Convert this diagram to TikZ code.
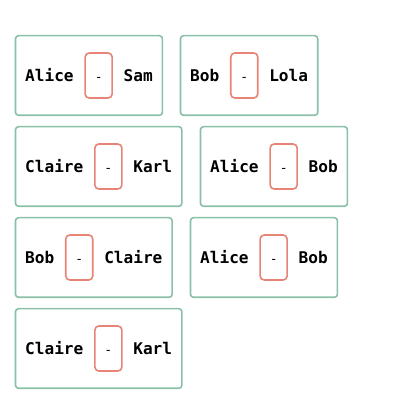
\documentclass[tikz,border=0pt]{standalone}
\usepackage{fontspec}
\setmonofont{DejaVu Sans Mono}
\usepackage{xcolor}
\usepackage{tikz}
\usetikzlibrary{positioning, fit}
\definecolor{pairgreen}{RGB}{138,192,168}
\definecolor{dashred}{RGB}{232,132,118}

\begin{document}
\begin{tikzpicture}[
    x=1pt, y=1pt,
    node distance=10.5pt,
    person/.style={inner sep=0pt, text height=11.8pt, text depth=0pt, font=\fontsize{16.1}{19}\selectfont\ttfamily\bfseries},
    sepbox/.style={rectangle, draw=dashred, line width=1.6pt, rounded corners=4pt, minimum width=27pt, minimum height=45pt, inner sep=0pt, text height=11.8pt, text depth=0pt, font=\fontsize{13}{15}\selectfont\ttfamily},
    pair/.style={rectangle, draw=pairgreen, line width=1.6pt, rounded corners=3pt, inner xsep=9.5pt, inner ysep=16.5pt}
]
    \useasboundingbox (0,0) rectangle (400,402);

    % Row 1
    \node[person, anchor=west] (a1) at (25,326.5) {Alice};
    \node[sepbox, right=of a1] (s1) {-};
    \node[person, right=of s1] (b1) {Sam};
    \node[pair, fit=(a1)(s1)(b1)] (p1) {};

    \node[person, anchor=west] (a2) at (190,326.5) {Bob};
    \node[sepbox, right=of a2] (s2) {-};
    \node[person, right=of s2] (b2) {Lola};
    \node[pair, fit=(a2)(s2)(b2)] (p2) {};

    % Row 2
    \node[person, anchor=west] (a3) at (25,235.5) {Claire};
    \node[sepbox, right=of a3] (s3) {-};
    \node[person, right=of s3] (b3) {Karl};
    \node[pair, fit=(a3)(s3)(b3)] (p3) {};

    \node[person, anchor=west] (a4) at (210,235.5) {Alice};
    \node[sepbox, right=of a4] (s4) {-};
    \node[person, right=of s4] (b4) {Bob};
    \node[pair, fit=(a4)(s4)(b4)] (p4) {};

    % Row 3
    \node[person, anchor=west] (a5) at (25,144.5) {Bob};
    \node[sepbox, right=of a5] (s5) {-};
    \node[person, right=of s5] (b5) {Claire};
    \node[pair, fit=(a5)(s5)(b5)] (p5) {};

    \node[person, anchor=west] (a6) at (200,144.5) {Alice};
    \node[sepbox, right=of a6] (s6) {-};
    \node[person, right=of s6] (b6) {Bob};
    \node[pair, fit=(a6)(s6)(b6)] (p6) {};

    % Row 4
    \node[person, anchor=west] (a7) at (25,53.5) {Claire};
    \node[sepbox, right=of a7] (s7) {-};
    \node[person, right=of s7] (b7) {Karl};
    \node[pair, fit=(a7)(s7)(b7)] (p7) {};

\end{tikzpicture}
\end{document}
